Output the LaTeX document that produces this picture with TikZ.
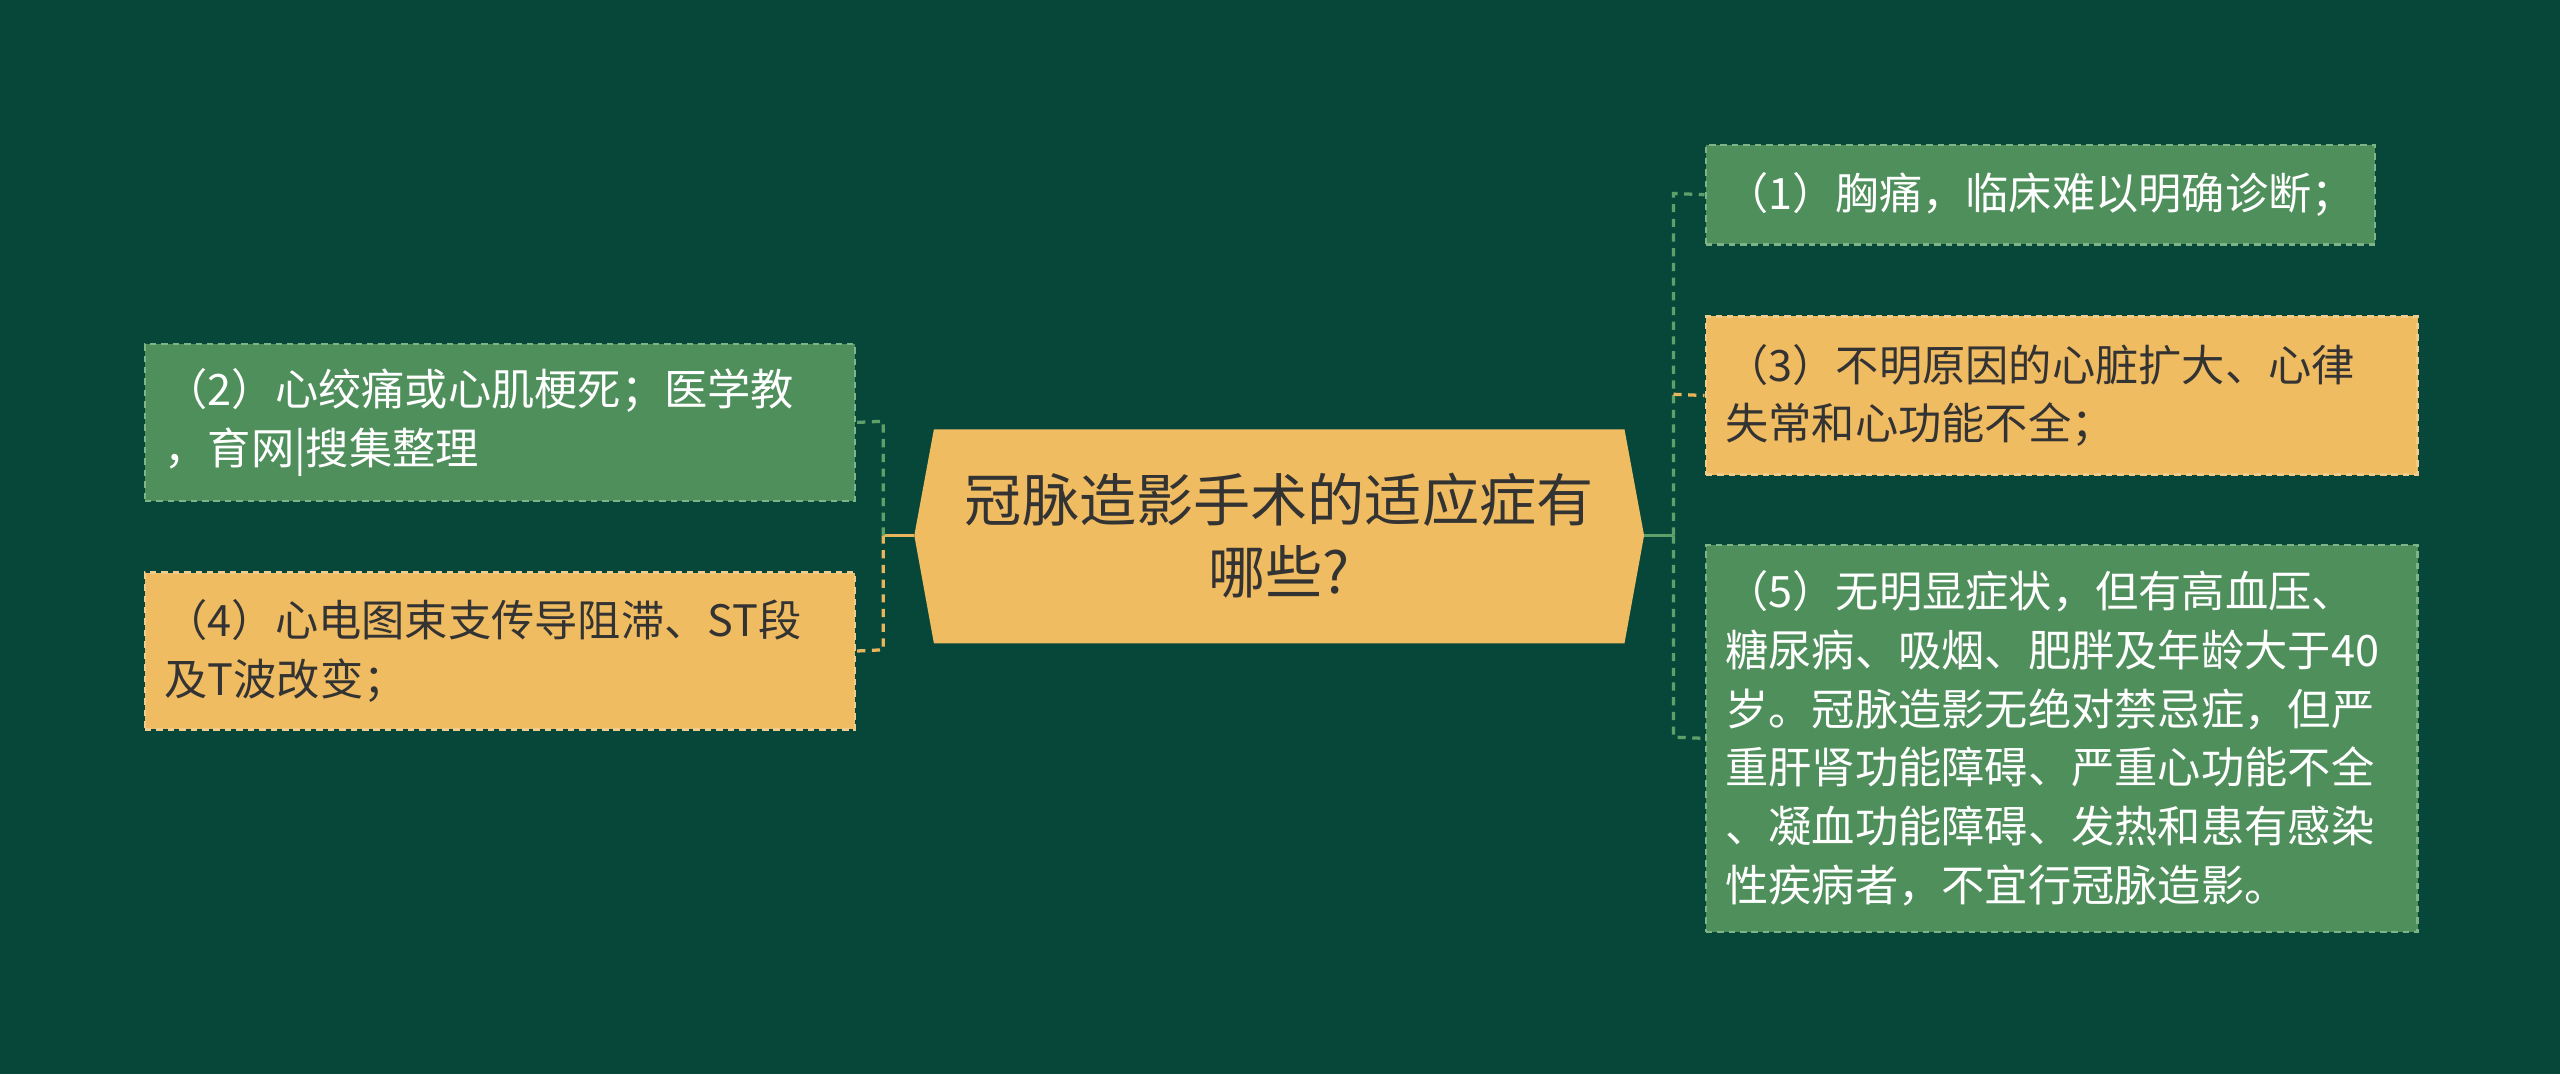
\documentclass[tikz,border=0pt]{standalone}
\usepackage{fontspec}
\setmainfont{Noto Sans CJK SC}
\definecolor{bg}{HTML}{07473A}
\definecolor{gbox}{HTML}{4F8F5B}
\definecolor{obox}{HTML}{F0BC62}
\definecolor{gline}{HTML}{5FA06A}
\definecolor{oline}{HTML}{E8B45C}
\definecolor{txt}{HTML}{333333}
\begin{document}
\begin{tikzpicture}[x=1pt,y=-1pt,
  box/.style={anchor=north west,inner xsep=12pt,inner ysep=0pt,align=left,font=\fontsize{26.5}{36}\selectfont,dash pattern=on 4pt off 3pt,line width=1.5pt},
  gb/.style={box,fill=gbox,draw=gline!80!white,text=white},
  ob/.style={box,fill=obox,draw=oline!70!white,text=txt},
  conn/.style={dash pattern=on 5pt off 4pt,line width=2pt}]
\fill[bg] (0,0) rectangle (1568,658);
\useasboundingbox (0,0) rectangle (1568,658);
\coordinate (cl) at (560,328);
\coordinate (cr) at (1007,328);
\fill[obox] (560,328) -- (572,263) -- (995,263) -- (1007,328) -- (995,394) -- (572,394) -- cycle;
\node[font=\fontsize{35}{44}\selectfont,text=txt,align=center] (c) at (783.5,328) {冠脉造影手术的适应症有\\哪些?};
\node[gb,minimum width=435pt,minimum height=96pt,text width=411pt] (l2) at (88,210) {（2）心绞痛或心肌梗死；医学教\\，育网|搜集整理};
\node[ob,minimum width=435pt,minimum height=96pt,text width=411pt] (l4) at (88,350) {（4）心电图束支传导阻滞、ST段\\及T波改变；};
\node[gb,minimum width=410pt,minimum height=61pt,text width=386pt] (r1) at (1044,88) {（1）胸痛，临床难以明确诊断；};
\node[ob,minimum width=436pt,minimum height=97pt,text width=412pt] (r3) at (1044,193) {（3）不明原因的心脏扩大、心律\\失常和心功能不全；};
\node[gb,minimum width=436pt,minimum height=237pt,text width=412pt] (r5) at (1044,333) {（5）无明显症状，但有高血压、\\糖尿病、吸烟、肥胖及年龄大于40\\岁。冠脉造影无绝对禁忌症，但严\\重肝肾功能障碍、严重心功能不全\\、凝血功能障碍、发热和患有感染\\性疾病者，不宜行冠脉造影。};
\coordinate (lj) at (541,328);
\draw[oline,line width=2pt] (cl) -- (lj);
\draw[conn,gline] (lj) -- (541,258) -- (l2.east);
\draw[conn,oline] (lj) -- (541,398) -- (l4.east);
\coordinate (rj) at (1025,328);
\draw[gline,line width=2pt] (cr) -- (rj);
\draw[conn,gline] (rj) -- (1025,118.5) -- (r1.west);
\draw[conn,oline] (1025,241.5) -- (r3.west);
\draw[conn,gline] (rj) -- (1025,451.5) -- (r5.west);
\end{tikzpicture}
\end{document}
